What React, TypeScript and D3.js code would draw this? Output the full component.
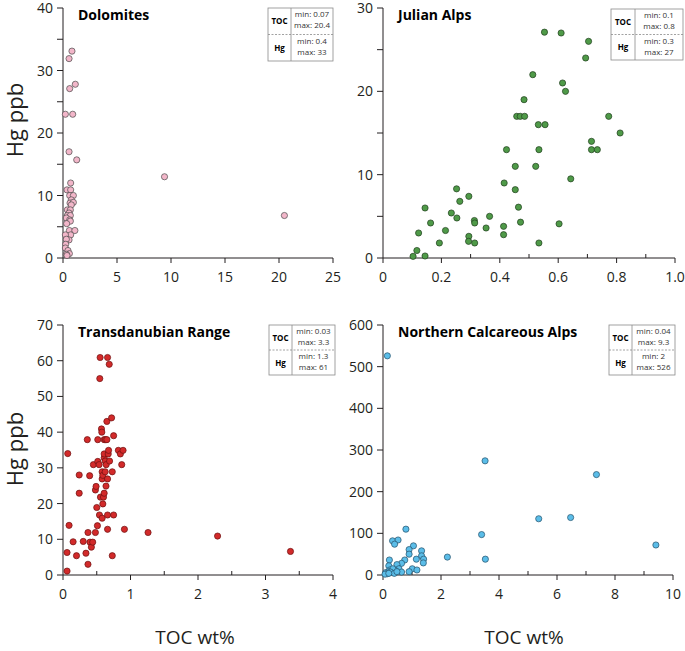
import React from "react";
import * as d3 from "d3";

// ---------- data ----------
const dolomitesPts: [number, number][] = [
  [0.83, 33.1], [0.56, 31.9], [0.62, 27.1], [1.14, 27.8], [0.22, 23], [0.9, 23],
  [0.56, 17], [1.27, 15.7], [0.71, 12], [0.37, 10.9], [0.71, 10.9], [0.62, 10],
  [0.96, 10], [0.77, 9.3], [0.65, 8.8], [0.96, 8.9], [0.77, 8.5], [0.4, 7.7],
  [0.68, 7.7], [0.56, 7.2], [0.4, 6.8], [0.68, 6.8], [0.31, 6.4], [0.62, 6.1],
  [0.68, 5.9], [0.34, 5.5], [0.59, 4.4], [1.1, 4.4], [0.71, 3.7], [0.22, 3.7],
  [0.56, 2.9], [0.31, 3.0], [0.25, 2.2], [0.22, 1.6], [0.46, 1.2], [0.59, 0.7],
  [0.31, 0.6], [0.37, 0.4], [9.4, 13.0], [20.5, 6.8],
];
const julianPts: [number, number][] = [
  [0.103, 0.2], [0.116, 0.9], [0.144, 0.24], [0.122, 3.0], [0.144, 6.0], [0.163, 4.2],
  [0.193, 1.8], [0.214, 3.3], [0.234, 5.4], [0.252, 8.3], [0.253, 4.8], [0.263, 6.8],
  [0.294, 7.4], [0.294, 2.6], [0.293, 2.0], [0.314, 1.8], [0.313, 4.5], [0.314, 4.2],
  [0.353, 3.6], [0.365, 5.0], [0.413, 3.8], [0.413, 2.8], [0.415, 9.0], [0.423, 13.0],
  [0.453, 11.0], [0.453, 8.2], [0.464, 6.1], [0.471, 4.3], [0.458, 17], [0.47, 17],
  [0.485, 17], [0.483, 19], [0.513, 22], [0.523, 11], [0.534, 13], [0.532, 16],
  [0.555, 16], [0.534, 1.8], [0.553, 27.1], [0.61, 27], [0.615, 21], [0.625, 20],
  [0.603, 4.1], [0.643, 9.5], [0.694, 24], [0.704, 26], [0.714, 14], [0.714, 13],
  [0.734, 13], [0.773, 17], [0.812, 15],
];
const transdanubianPts: [number, number][] = [
  [0.06, 1.1], [0.06, 6.3], [0.07, 34], [0.09, 13.9], [0.15, 9.3], [0.2, 5.4],
  [0.24, 28], [0.24, 22.9], [0.3, 9.4], [0.34, 6.1], [0.36, 37.9], [0.37, 11.9],
  [0.37, 3.0], [0.395, 27.8], [0.4, 9.2], [0.42, 7.8], [0.44, 9.2], [0.45, 30.9],
  [0.48, 11.9], [0.48, 23.8], [0.49, 24.8], [0.5, 18.9], [0.51, 13.8], [0.515, 37.9],
  [0.515, 31.8], [0.535, 30.9], [0.54, 16.8], [0.55, 60.9], [0.545, 55], [0.555, 21.8],
  [0.57, 40.9], [0.575, 40], [0.58, 15.9], [0.58, 28.9], [0.58, 26.9], [0.59, 27.9],
  [0.59, 19.9], [0.6, 21.8], [0.61, 22.9], [0.61, 32.8], [0.61, 33.9], [0.61, 37.9],
  [0.625, 31.9], [0.625, 28.9], [0.63, 37.9], [0.637, 24.9], [0.64, 30.9], [0.65, 37.9],
  [0.65, 43], [0.66, 60.9], [0.66, 26.9], [0.66, 16.8], [0.66, 12.8], [0.67, 33.9],
  [0.675, 34.9], [0.685, 59], [0.69, 31.9], [0.72, 44], [0.73, 28.9], [0.73, 5.4],
  [0.75, 39], [0.75, 16.8], [0.82, 34.9], [0.85, 33.9], [0.87, 30.9], [0.89, 34.9],
  [0.91, 12.8], [1.26, 11.9], [2.29, 10.9], [3.37, 6.6],
];
const northernPts: [number, number][] = [
  [0.15, 526], [3.52, 274], [7.36, 241], [5.37, 135], [6.47, 138], [3.4, 97],
  [3.53, 38], [9.41, 72], [2.22, 43], [0.79, 110], [0.33, 82], [0.52, 84],
  [0.4, 74], [1.05, 70], [0.9, 61], [0.9, 50], [1.33, 58], [1.33, 46],
  [1.4, 38], [1.39, 29], [1.15, 38], [0.75, 36], [0.64, 28], [0.48, 25],
  [0.22, 36], [0.2, 22], [0.23, 12], [1.01, 15], [1.17, 12], [0.9, 8],
  [0.55, 15], [0.64, 7], [0.44, 10], [0.34, 15], [0.1, 6], [0.2, 8],
  [0.26, 7], [0.39, 4], [0.48, 8], [0.15, 3], [0.07, 2], [0.2, 4],
];

const dolXTicks = [0, 5, 10, 15, 20, 25];
const dolXMinor: number[] = [];
const dolYTicks = [0, 10, 20, 30, 40];
const dolYMinor = [5, 15, 25, 35];
const julXTicks = [0, 0.2, 0.4, 0.6, 0.8, 1.0];
const julXLabels = ["0", "0.2", "0.4", "0.6", "0.8", "1.0"];
const julXMinor = [0.1, 0.3, 0.5, 0.7, 0.9];
const julYTicks = [0, 10, 20, 30];
const julYMinor = [5, 15, 25];
const traXTicks = [0, 1, 2, 3, 4];
const traXMinor = [0.5, 1.5, 2.5, 3.5];
const traYTicks = [0, 10, 20, 30, 40, 50, 60, 70];
const norXTicks = [0, 2, 4, 6, 8, 10];
const norXMinor = [1, 3, 5, 7, 9];
const norYTicks = [0, 100, 200, 300, 400, 500, 600];

const dolLegend = ["min: 0.07", "max: 20.4", "min: 0.4", "max: 33"];
const julLegend = ["min: 0.1", "max: 0.8", "min: 0.3", "max: 27"];
const traLegend = ["min: 0.03", "max: 3.3", "min: 1.3", "max: 61"];
const norLegend = ["min: 0.04", "max: 9.3", "min: 2", "max: 526"];

const FONT = "'Open Sans', 'DejaVu Sans', sans-serif";
const AX = "#231f20";

type PanelProps = {
  title: string;
  pts: [number, number][];
  xr: [number, number];
  yr: [number, number];
  xd: [number, number];
  yd: [number, number];
  xTicks: number[];
  xLabels?: string[];
  xMinor: number[];
  yTicks: number[];
  yMinor: number[];
  fill: string;
  stroke: string;
  legend: string[];
  lg: { x: number; y: number; w: number; h: number; div: number };
};

function Panel(p: PanelProps) {
  const x = d3.scaleLinear().domain(p.xd).range(p.xr);
  const y = d3.scaleLinear().domain(p.yd).range(p.yr);
  const yb = p.yr[0];
  const yt = p.yr[1];
  const { lg } = p;
  const mid = lg.y + lg.h / 2;
  const cx = lg.div + (lg.x + lg.w - lg.div) / 2;
  const lcx = lg.x + (lg.div - lg.x) / 2;
  return (
    <g>
      {/* axes */}
      <line x1={p.xr[0]} x2={p.xr[1]} y1={yb} y2={yb} stroke={AX} strokeWidth={1} />
      <line x1={p.xr[0]} x2={p.xr[0]} y1={yt} y2={yb} stroke={AX} strokeWidth={1} />
      {p.xTicks.map((t, i) => (
        <g key={"xt" + i}>
          <line x1={x(t)} x2={x(t)} y1={yb} y2={yb + 5} stroke={AX} strokeWidth={1} />
          <text x={x(t)} y={yb + 24} textAnchor="middle" fontSize={14} fontFamily={FONT} fill="#231f20">
            {p.xLabels ? p.xLabels[i] : String(t)}
          </text>
        </g>
      ))}
      {p.xMinor.map((t, i) => (
        <line key={"xm" + i} x1={x(t)} x2={x(t)} y1={yb} y2={yb - 4} stroke={AX} strokeWidth={1} />
      ))}
      {p.yTicks.map((t, i) => (
        <g key={"yt" + i}>
          <line x1={p.xr[0] - 6} x2={p.xr[0]} y1={y(t)} y2={y(t)} stroke={AX} strokeWidth={1} />
          <text x={p.xr[0] - 10} y={y(t) + 5} textAnchor="end" fontSize={14} fontFamily={FONT} fill="#231f20">
            {String(t)}
          </text>
        </g>
      ))}
      {p.yMinor.map((t, i) => (
        <line key={"ym" + i} x1={p.xr[0] - 6} x2={p.xr[0]} y1={y(t)} y2={y(t)} stroke={AX} strokeWidth={1} />
      ))}
      {/* title */}
      <text x={p.xr[0] + 15} y={yt + 12} fontSize={14} fontWeight="bold" fontFamily={FONT} fill="#000">
        {p.title}
      </text>
      {/* legend box */}
      <rect x={lg.x} y={lg.y} width={lg.w} height={lg.h} fill="#fff" stroke="#8a8a8a" strokeWidth={0.8} />
      <line x1={lg.div} x2={lg.div} y1={lg.y} y2={lg.y + lg.h} stroke="#8a8a8a" strokeWidth={0.8} />
      <line x1={lg.x} x2={lg.x + lg.w} y1={mid} y2={mid} stroke="#8a8a8a" strokeWidth={0.8} strokeDasharray="2,1.5" />
      <text x={lcx} y={lg.y + lg.h / 4 + 3} textAnchor="middle" fontSize={8} fontWeight="bold" fontFamily={FONT} fill="#000">TOC</text>
      <text x={lcx} y={lg.y + (3 * lg.h) / 4 + 3} textAnchor="middle" fontSize={8} fontWeight="bold" fontFamily={FONT} fill="#000">Hg</text>
      <text x={cx} y={lg.y + 9} textAnchor="middle" fontSize={8} fontFamily={FONT} fill="#333">{p.legend[0]}</text>
      <text x={cx} y={lg.y + 20} textAnchor="middle" fontSize={8} fontFamily={FONT} fill="#333">{p.legend[1]}</text>
      <text x={cx} y={mid + 9} textAnchor="middle" fontSize={8} fontFamily={FONT} fill="#333">{p.legend[2]}</text>
      <text x={cx} y={mid + 20} textAnchor="middle" fontSize={8} fontFamily={FONT} fill="#333">{p.legend[3]}</text>
      {/* points */}
      {p.pts.map((d, i) => (
        <circle key={"p" + i} cx={x(d[0])} cy={y(d[1])} r={3.1} fill={p.fill} stroke={p.stroke} strokeWidth={0.7} />
      ))}
    </g>
  );
}

export default function App() {
  return (
    <svg width={685} height={651} style={{ position: "absolute", left: 0, top: 0, background: "#fff" }}>
      <rect width={685} height={651} fill="#fff" />
      <Panel title="Dolomites" pts={dolomitesPts} xr={[63, 333]} yr={[258, 8]} xd={[0, 25]} yd={[0, 40]}
        xTicks={dolXTicks} xMinor={dolXMinor} yTicks={dolYTicks} yMinor={dolYMinor}
        fill="#f2b6c9" stroke="#4a4a4a" legend={dolLegend}
        lg={{ x: 268, y: 8, w: 65, h: 53, div: 291 }} />
      <Panel title="Julian Alps" pts={julianPts} xr={[383, 675]} yr={[258, 8]} xd={[0, 1]} yd={[0, 30]}
        xTicks={julXTicks} xLabels={julXLabels} xMinor={julXMinor} yTicks={julYTicks} yMinor={julYMinor}
        fill="#4f9a48" stroke="#1f3d1c" legend={julLegend}
        lg={{ x: 611, y: 9, w: 72, h: 51, div: 635 }} />
      <Panel title="Transdanubian Range" pts={transdanubianPts} xr={[63, 333]} yr={[575, 325]} xd={[0, 4]} yd={[0, 70]}
        xTicks={traXTicks} xMinor={traXMinor} yTicks={traYTicks} yMinor={[]}
        fill="#d22a2a" stroke="#6b1010" legend={traLegend}
        lg={{ x: 269, y: 325, w: 66, h: 50, div: 292 }} />
      <Panel title="Northern Calcareous Alps" pts={northernPts} xr={[383, 673]} yr={[575, 325]} xd={[0, 10]} yd={[0, 600]}
        xTicks={norXTicks} xMinor={norXMinor} yTicks={norYTicks} yMinor={[]}
        fill="#5bbde8" stroke="#24506a" legend={norLegend}
        lg={{ x: 609, y: 325, w: 66, h: 50, div: 632 }} />
      <text transform="translate(23,120) rotate(-90)" textAnchor="middle" fontSize={22} fontFamily={FONT} fill="#231f20">Hg ppb</text>
      <text transform="translate(23,449) rotate(-90)" textAnchor="middle" fontSize={22} fontFamily={FONT} fill="#231f20">Hg ppb</text>
      <text x={195} y={644} textAnchor="middle" fontSize={19} fontFamily={FONT} fill="#231f20">TOC wt%</text>
      <text x={524} y={644} textAnchor="middle" fontSize={19} fontFamily={FONT} fill="#231f20">TOC wt%</text>
    </svg>
  );
}
